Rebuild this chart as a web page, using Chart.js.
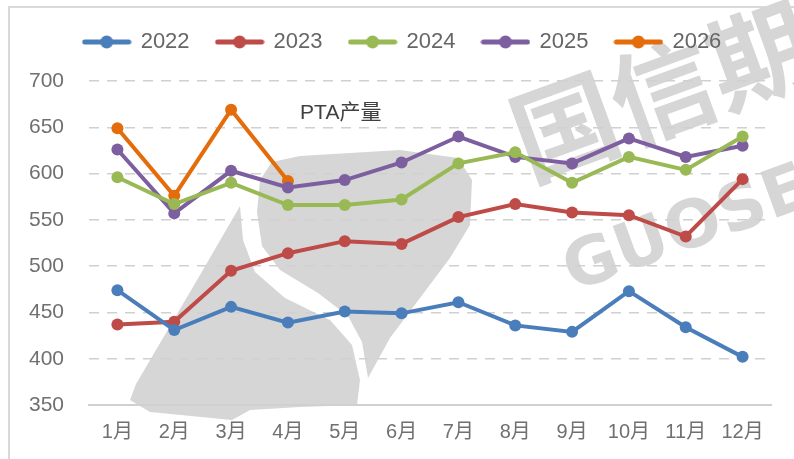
<!DOCTYPE html>
<html>
<head>
<meta charset="utf-8">
<script src="https://cdn.jsdelivr.net/npm/chart.js@4/dist/chart.umd.min.js"></script>
<style>
  html, body { margin: 0; padding: 0; background: #fff; }
  #frame { position: absolute; left: 8px; top: 6px; width: 800px; height: 470px;
           border-left: 2px solid #d9d9d9; border-top: 2px solid #d9d9d9; }
  #wrap { position: absolute; left: 0; top: 0; width: 794px; height: 459px; }
</style>
</head>
<body>
<div id="frame"></div>
<div id="wrap"><canvas id="ptaChart" width="794" height="459"></canvas></div>
<script>
const months = ['1月','2月','3月','4月','5月','6月','7月','8月','9月','10月','11月','12月'];
const years = ['2022','2023','2024','2025','2026'];
const colors = ['#4a7ebb','#be4b48','#98b954','#7d5fa0','#e46c0a'];
const v2022 = [474, 431, 456, 439, 451, 449, 461, 436, 429, 473, 434, 402];
const v2023 = [437, 440, 495, 514, 527, 524, 553, 567, 558, 555, 532, 594];
const v2024 = [596, 567, 590, 566, 566, 572, 611, 623, 590, 618, 604, 640];
const v2025 = [626, 557, 603, 585, 593, 612, 640, 618, 611, 638, 618, 630];
const v2026 = [649, 576, 669, 592];
const chartTitle = 'PTA产量';

const fontFamily = '"Liberation Sans", "Noto Sans CJK SC", sans-serif';

function legendMarker(color) {
  const c = document.createElement('canvas');
  c.width = 50; c.height = 14;
  const g = c.getContext('2d');
  g.strokeStyle = color;
  g.lineWidth = 5;
  g.lineCap = 'round';
  g.beginPath(); g.moveTo(3, 7); g.lineTo(47, 7); g.stroke();
  g.fillStyle = color;
  g.beginPath(); g.arc(25, 7, 6.5, 0, Math.PI * 2); g.fill();
  return c;
}

const allData = [v2022, v2023, v2024, v2025, v2026];
const datasets = years.map((y, i) => ({
  label: y,
  data: allData[i],
  borderColor: colors[i],
  backgroundColor: colors[i],
  borderWidth: 4,
  pointRadius: 6,
  pointHoverRadius: 6,
  pointBackgroundColor: colors[i],
  pointBorderWidth: 0,
  tension: 0,
  fill: false
}));

// faint company watermark behind the plot (logo shape + text)
function poly(ctx, pts) {
  ctx.beginPath();
  ctx.moveTo(pts[0][0], pts[0][1]);
  for (let i = 1; i < pts.length; i++) ctx.lineTo(pts[i][0], pts[i][1]);
  ctx.closePath();
  ctx.fill();
}
const watermarkPlugin = {
  id: 'watermark',
  beforeDraw(chart) {
    const ctx = chart.ctx;
    ctx.save();
    ctx.fillStyle = '#d6d6d6';
    poly(ctx, [[240,206],[243,240],[255,272],[285,298],[330,320],[352,345],[360,380],[357,405],[300,407],[250,410],[232,420],[150,412],[130,400],[136,384],[200,275]]);
    poly(ctx, [[257,212],[260,180],[272,162],[300,156],[400,150],[458,158],[472,180],[470,225],[450,258],[420,298],[390,338],[368,378],[362,342],[348,316],[318,293],[280,270],[262,246]]);
    ctx.translate(550, 136);
    ctx.rotate(-20 * Math.PI / 180);
    ctx.font = 'bold 104px "Noto Sans CJK SC", sans-serif';
    ctx.textBaseline = 'middle';
    ctx.fillText('国信期货', -35, -4);
    ctx.font = 'bold 66px "DejaVu Sans", sans-serif';
    ctx.fillText('GUOSEN', -32, 137);
    ctx.restore();
  }
};

const titlePlugin = {
  id: 'innerTitle',
  afterDatasetsDraw(chart) {
    const ctx = chart.ctx;
    const x = chart.scales.x.getPixelForValue(4);
    const y = chart.scales.y.getPixelForValue(665);
    ctx.save();
    ctx.font = '21px ' + fontFamily;
    ctx.fillStyle = '#404040';
    ctx.textAlign = 'center';
    ctx.textBaseline = 'middle';
    ctx.fillText(chartTitle, x - 4, y);
    ctx.restore();
  }
};

const legendFit = {
  id: 'legendFit',
  beforeInit(chart) {
    const fit = chart.legend.fit;
    chart.legend.fit = function () {
      fit.bind(chart.legend)();
      this.height = 77;
    };
  },
  afterLayout(chart) {
    // nudge the legend row to the right like the original
    chart.legend.left += 17;
    chart.legend.right += 17;
  }
};

new Chart(document.getElementById('ptaChart').getContext('2d'), {
  type: 'line',
  data: { labels: months, datasets },
  plugins: [legendFit, watermarkPlugin, titlePlugin],
  options: {
    responsive: false,
    animation: false,
    layout: { padding: { top: 4, right: 23, left: 0, bottom: 0 } },
    plugins: {
      tooltip: { enabled: false },
      legend: {
        position: 'top',
        labels: {
          usePointStyle: true,
          pointStyleWidth: 46,
          padding: 27,
          color: '#666666',
          font: { family: fontFamily, size: 22 },
          generateLabels(chart) {
            return chart.data.datasets.map((ds, i) => ({
              text: ds.label,
              pointStyle: legendMarker(colors[i]),
              fillStyle: colors[i],
              strokeStyle: colors[i],
              lineWidth: 0,
              fontColor: '#666666',
              hidden: false,
              datasetIndex: i
            }));
          }
        }
      }
    },
    scales: {
      x: {
        offset: true,
        grid: { display: false, drawTicks: false },
        border: { display: true, color: '#d0d0d0', width: 2 },
        ticks: { color: '#707070', padding: 15, font: { family: fontFamily, size: 20 } },
        afterFit(s) { s.height = 54; }
      },
      y: {
        min: 350, max: 700,
        ticks: { stepSize: 50, color: '#707070', padding: 25, font: { family: fontFamily, size: 21 } },
        grid: { color: '#d0d0d0', lineWidth: 1.5, drawTicks: false },
        border: { display: false, dash: [10, 8] },
        afterFit(s) { s.width = 89; }
      }
    }
  }
});
</script>
</body>
</html>
